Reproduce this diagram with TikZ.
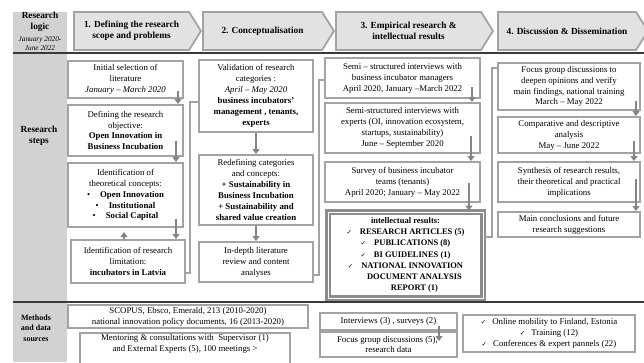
\documentclass[tikz,border=0pt]{standalone}
\usepackage{fontspec}
\setmainfont{Liberation Serif}
\newfontfamily\symfont{DejaVu Sans}
\usepackage{xcolor}
\definecolor{colgray}{HTML}{D2D2D2}
\definecolor{headfill}{HTML}{E2E2E2}
\definecolor{edge}{HTML}{A3A3A3}
\definecolor{edgedark}{HTML}{8C8C8C}
\definecolor{arrg}{HTML}{858585}
\definecolor{rulec}{HTML}{3A3A3A}
\usepackage{tikz}
\usetikzlibrary{arrows.meta,positioning,shapes.symbols}
\newcommand{\ck}{{\symfont\fontsize{6.5}{6.5}\selectfont ✓}}
\tikzset{
  >={Triangle[width=7pt,length=5pt]},
  stepbox/.style={draw=edge,line width=2pt,fill=white,inner sep=1pt,align=center,font=\fontsize{8.8}{10.9}\selectfont},
  resbox/.style={stepbox,draw=edgedark,line width=3pt,double=white,double distance=0.9pt},
  head/.style={shape=signal,signal pointer angle=116,draw=edge,line width=1.8pt,fill=headfill,inner sep=1pt,align=center,font=\fontsize{9.3}{11}\selectfont\bfseries},
  arr/.style={->,draw=arrg,line width=2pt},
  link/.style={draw=edge,line width=1.8pt},
  rulel/.style={draw=rulec,line width=1.2pt},
  side/.style={align=center,font=\fontsize{9.3}{10.5}\selectfont\bfseries},
}
\begin{document}
\begin{tikzpicture}[x=1pt,y=-1pt,
  c1/.style={stepbox,minimum width=115pt},
  c2/.style={stepbox,minimum width=114pt},
  c3/.style={stepbox,minimum width=155pt},
  c4/.style={stepbox,minimum width=142pt}]
\useasboundingbox (0,0) rectangle (644,362);
\clip (0,0) rectangle (644,362);
\fill[colgray] (13,12) rectangle (67,362);
\draw[rulel] (13,53) -- (644,53);
\draw[rulel] (13,302) -- (644,302);

\node[side,inner sep=0pt] (logic) at (40,22) {Research\\logic};
\node[side,inner sep=0pt,font=\fontsize{7.3}{8.8}\selectfont\itshape] (span) at (40,43.5) {January 2020-\\June 2022};
\node[side] (steps) at (39,136) {Research\\steps};
\node[side,font=\fontsize{8}{10.5}\selectfont\bfseries] (methods) at (36,328) {Methods\\and data\\sources};

\node[head,minimum width=127pt,minimum height=38pt] (h1) at (131.5,31) {1. Defining the research\\scope and problems};
\node[head,minimum width=131pt,minimum height=38pt] (h2) at (262.5,31) {2. Conceptualisation};
\node[head,minimum width=157pt,minimum height=38pt] (h3) at (408.5,31) {3. Empirical research \&\\intellectual results};
\node[head,minimum width=150pt,minimum height=38pt] (h4) at (567,31) {4. Discussion \& Dissemination};

\node[c1,minimum height=37pt] (a) at (125.5,79.5) {Initial selection of\\literature\\\textit{January – March 2020}};
\node[c1,minimum height=51pt] (b) at (125.5,130.5) {Defining the research\\objective:\\\textbf{Open Innovation in}\\\textbf{Business Incubation}};
\node[c1,minimum height=64pt] (c) at (125.5,195) {Identification of\\theoretical concepts:\\\textbullet\hspace{10pt}\textbf{Open Innovation}\\\textbullet\hspace{10pt}\textbf{Institutional}\\\textbullet\hspace{10pt}\textbf{Social Capital}};
\node[c1,minimum width=114pt,minimum height=43pt] (d) at (128,261.5) {Identification of research\\limitation:\\\textbf{incubators in Latvia}};

\node[c2,minimum height=72pt] (e) at (256,96) {Validation of research\\categories :\\\textit{April – May 2020}\\\textbf{business incubators'}\\\textbf{management , tenants,}\\\textbf{experts}};
\node[c2,minimum height=70pt] (f) at (256,190) {Redefining categories\\and concepts:\\\textbf{+ Sustainability in}\\\textbf{Business Incubation}\\\textbf{+ Sustainability and}\\\textbf{shared value creation}};
\node[c2,minimum height=40pt] (g) at (256,262) {In-depth literature\\review and content\\analyses};

\node[c3,minimum height=40pt] (h) at (402.5,78) {Semi – structured interviews with\\business incubator managers\\April 2020, January –March 2022};
\node[c3,minimum height=50pt] (i) at (402.5,128) {Semi-structured interviews with\\experts (OI, innovation ecosystem,\\startups, sustainability)\\June – September 2020};
\node[c3,minimum height=40pt] (j) at (402.5,182) {Survey of business incubator\\teams (tenants)\\April 2020; January – May 2022};
\node[resbox,minimum width=155pt,minimum height=86pt,font=\fontsize{8.5}{11.3}\selectfont\bfseries] (k) at (405.5,255) {intellectual results:\\\ck\hspace{8pt}RESEARCH ARTICLES (5)\\\ck\hspace{8pt}PUBLICATIONS (8)\\\ck\hspace{8pt}BI GUIDELINES (1)\\\ck\hspace{8pt}NATIONAL INNOVATION\\\hspace*{18pt}DOCUMENT ANALYSIS\\\hspace*{18pt}REPORT (1)};

\node[c4,minimum height=47pt] (l) at (569,86.5) {Focus group discussions to\\deepen opinions and verify\\main findings, national training\\March – May 2022};
\node[c4,minimum height=36pt] (m) at (569,135) {Comparative and descriptive\\analysis\\May – June 2022};
\node[c4,minimum height=40pt] (n) at (569,182) {Synthesis of research results,\\their theoretical and practical\\implications};
\node[c4,minimum height=25pt] (o) at (569,224.5) {Main conclusions and future\\research suggestions};

\node[stepbox,minimum width=240pt,minimum height=23pt] (p) at (188,316.5) {SCOPUS, Ebsco, Emerald, 213 (2010-2020)\\national innovation policy documents, 16 (2013-2020)};
\node[stepbox,minimum width=210pt,minimum height=34pt,anchor=north] (q) at (185,332) {Mentoring \& consultations with\ \ Supervisor (1)\\and External Experts (5), 100 meetings >\\[6pt]};
\node[stepbox,minimum width=137pt,minimum height=17pt] (r) at (388.5,321.5) {Interviews (3) , surveys (2)};
\node[stepbox,minimum width=137pt,minimum height=25pt] (s) at (388.5,344.5) {Focus group discussions (5),\ \ \\research data};
\node[stepbox,minimum width=172pt,minimum height=37pt] (t) at (549,333.5) {\ck\hspace{6pt}Online mobility to Finland, Estonia\\\ck\hspace{6pt}Training (12)\\\ck\hspace{6pt}Conferences \& expert pannels (22)};

\foreach \u/\v/\dx/\dy in {a/b/6/8,b/c/8/16,c/d/8/9,h/i/9/12,i/j/10/18,j/k/12/20,l/m/5/10,m/n/7/13,n/o/5/24}
  \draw[arr] ([xshift=-\dx pt,yshift=\dy pt]\u.south east) -- ([xshift=-\dx pt]\u.south east |- \v.north);
\foreach \u/\v in {e/f,f/g}
  \draw[arr] (\u.south) -- (\v.north);
\draw[arr] ([xshift=-4pt]d.north) -- ([xshift=-4pt,yshift=7pt]d.north);
\draw[arr] ([xshift=-19pt,yshift=5pt]r.south east) -- ([xshift=-19pt,yshift=-10pt]r.south east |- s.north);

\coordinate (j1) at (190,102);
\coordinate (j2) at (319,80);
\coordinate (j3) at (492,68);
\draw[link] ([yshift=-11.5pt]d.east) -| (j1) -- (j1 -| e.west);
\draw[link] ([yshift=-13pt]g.east) -| (j2) -- (j2 -| h.west);
\draw[link] ([yshift=18pt]k.east) -| (j3) -- (j3 -| l.west);
\end{tikzpicture}
\end{document}
